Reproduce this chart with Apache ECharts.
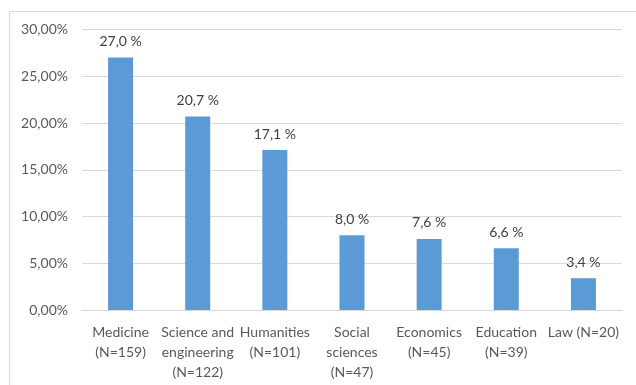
<!DOCTYPE html>
<html>
<head>
<meta charset="utf-8">
<script src="https://cdn.jsdelivr.net/npm/echarts@6/dist/echarts.min.js"></script>
<style>
  body { margin: 0; background: #fff; }
  #chart { width: 636px; height: 385px; }
</style>
</head>
<body>
<div id="chart"></div>
<script>
  // fields of study with sample size
  const categories = [
    'Medicine\n(N=159)',
    'Science and\nengineering\n(N=122)',
    'Humanities\n(N=101)',
    'Social\nsciences\n(N=47)',
    'Economics\n(N=45)',
    'Education\n(N=39)',
    'Law (N=20)'
  ]
  const shares = [27.0, 20.7, 17.1, 8.0, 7.6, 6.6, 3.4]

  const chart = echarts.init(document.getElementById('chart'))
  const font = 'Lato, "Open Sans", sans-serif'

  chart.setOption({
    animation: false,
    textStyle: { fontFamily: font },
    graphic: [
      {
        type: 'rect',
        shape: { x: 9.5, y: 11.5, width: 700, height: 500 },
        style: { fill: 'none', stroke: '#d9d9d9', lineWidth: 1 },
        silent: true
      }
    ],
    grid: { left: 82, right: 14, top: 29.5, bottom: 75 },
    xAxis: {
      type: 'category',
      data: categories,
      axisLine: { lineStyle: { color: '#d9d9d9' } },
      axisTick: { show: false },
      axisLabel: {
        interval: 0,
        color: '#595959',
        fontSize: 14,
        lineHeight: 20,
        margin: 12
      }
    },
    yAxis: {
      type: 'value',
      min: 0,
      max: 30,
      interval: 5,
      axisLine: { show: false },
      axisTick: { show: false },
      splitLine: { lineStyle: { color: '#d9d9d9' } },
      axisLabel: {
        color: '#595959',
        fontSize: 14,
        margin: 14,
        formatter: v => v.toFixed(2).replace('.', ',') + '%'
      }
    },
    series: [
      {
        type: 'bar',
        data: shares,
        barWidth: 25,
        itemStyle: { color: '#5b9bd5' },
        label: {
          show: true,
          position: 'top',
          distance: 9,
          color: '#404040',
          fontSize: 14,
          formatter: p => p.value.toFixed(1).replace('.', ',') + ' %'
        }
      }
    ]
  })
</script>
</body>
</html>
